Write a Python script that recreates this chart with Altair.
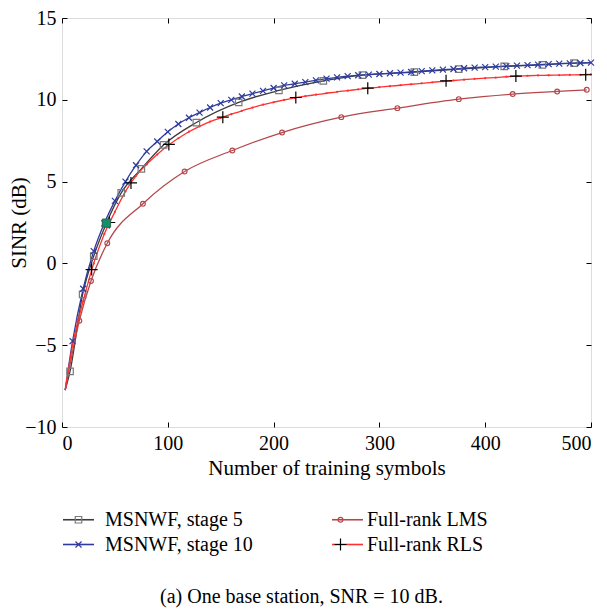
import altair as alt
import pandas as pd

FONT = "Liberation Serif"

LEGEND_ORDER = ["MSNWF, stage 5", "MSNWF, stage 10", "Full-rank LMS", "Full-rank RLS"]
LINE_COLORS = ["#3c3c3c", "#2e3b9e", "#b5474b", "#ff3030"]
MARKER_COLORS = ["#7a7a7a", "#2e3b9e", "#b5474b", "#000000"]
MARKER_PATHS = [
    "M-0.26,-0.26L0.26,-0.26L0.26,0.26L-0.26,0.26Z",
    "M-0.24,-0.24L0.24,0.24M-0.24,0.24L0.24,-0.24",
    "M-0.19,0A0.19,0.19 0 1,1 0.19,0A0.19,0.19 0 1,1 -0.19,0Z",
    "M-0.48,0L0.48,0M0,-0.48L0,0.48",
]
LEGEND_LINE_PATH = "M-1.24,0L1.24,0"
CAPTION = "(a) One base station, SNR = 10 dB."

# MSNWF, stage 5 (line points; markers flagged)
s5_x = [3, 7.6, 19.5, 30, 42, 56, 75, 96, 127, 167, 205, 247, 284, 333, 375, 418, 454, 484, 500]
s5_y = [-7.75, -6.6, -1.89, 0.45, 2.46, 4.31, 5.78, 7.24, 8.61, 9.84, 10.57, 11.16, 11.51, 11.69,
        11.88, 12.04, 12.14, 12.24, 12.27]
s5_mark = [0, 1, 1, 1, 1, 1, 1, 1, 1, 1, 1, 1, 1, 1, 1, 1, 1, 1, 0]

# MSNWF, stage 10
s10_x = [3, 10, 20, 30, 40, 50, 60, 70, 80, 90, 100, 110, 120, 130, 140, 150, 160, 170, 180, 190,
         200, 210, 220, 230, 240, 250, 260, 270, 280, 290, 300, 310, 320, 330, 340, 350, 360, 370,
         380, 390, 400, 410, 420, 430, 440, 450, 460, 470, 480, 490, 500]
s10_y = [-7.75, -4.75, -1.55, 0.75, 2.45, 3.82, 5.0, 6.0, 6.85, 7.45, 8.04, 8.52, 8.9, 9.22, 9.53,
         9.8, 10.0, 10.2, 10.38, 10.55, 10.72, 10.88, 10.98, 11.08, 11.19, 11.29, 11.37, 11.45,
         11.5, 11.54, 11.58, 11.62, 11.66, 11.7, 11.75, 11.8, 11.84, 11.88, 11.93, 11.97, 12.0,
         12.03, 12.06, 12.09, 12.12, 12.15, 12.18, 12.21, 12.23, 12.25, 12.27]
s10_mark = [0] + [1] * 50

# Full-rank LMS
lms_x = [3, 16.4, 27.4, 42.8, 76.5, 115.9, 161, 208, 264, 317, 375, 426, 468, 496]
lms_y = [-7.75, -3.5, -1.08, 1.23, 3.65, 5.62, 6.9, 8.0, 8.94, 9.49, 10.04, 10.35, 10.51, 10.61]
lms_mark = [0] + [1] * 13

# Full-rank RLS (line with small dots)
rls_x = [3, 10, 20, 30, 40, 50, 60, 70, 80, 90, 100, 110, 120, 130, 140, 150, 160, 170, 180, 190,
         200, 210, 220, 230, 240, 250, 260, 270, 280, 290, 300, 310, 320, 330, 340, 350, 360, 370,
         380, 390, 400, 410, 420, 430, 440, 450, 460, 470, 480, 490, 500]
rls_y = [-7.75, -5.0, -2.3, 0.0, 1.8, 3.15, 4.4, 5.35, 6.05, 6.65, 7.2, 7.65, 8.05, 8.38, 8.67,
         8.9, 9.12, 9.33, 9.52, 9.7, 9.85, 9.99, 10.12, 10.22, 10.31, 10.4, 10.49, 10.56, 10.64,
         10.71, 10.77, 10.83, 10.89, 10.95, 11.01, 11.07, 11.13, 11.18, 11.23, 11.28, 11.32,
         11.36, 11.41, 11.45, 11.47, 11.49, 11.5, 11.51, 11.52, 11.53, 11.55]
# Full-rank RLS "+" markers
rls_plus_x = [28, 44.7, 65.2, 101, 152, 221, 289, 363, 429, 495]
rls_plus_y = [-0.38, 2.5, 4.92, 7.27, 8.94, 10.14, 10.71, 11.16, 11.45, 11.53]

# highlighted (filled) marker
hl_x = [42]
hl_y = [2.46]

X_TICKS = [0, 100, 200, 300, 400, 500]
Y_TICKS = [-10, -5, 0, 5, 10, 15]

# ---------- tables ----------
rows_line, rows_mark = [], []
for name, xs_, ys_, ms in [
    ("MSNWF, stage 5", s5_x, s5_y, s5_mark),
    ("MSNWF, stage 10", s10_x, s10_y, s10_mark),
    ("Full-rank LMS", lms_x, lms_y, lms_mark),
    ("Full-rank RLS", rls_x, rls_y, [0] * len(rls_x)),
]:
    for xv, yv, mv in zip(xs_, ys_, ms):
        rows_line.append({"Series": name, "x": xv, "y": yv})
        if mv:
            rows_mark.append({"SeriesM": name, "x": xv, "y": yv})
for xv, yv in zip(rls_plus_x, rls_plus_y):
    rows_mark.append({"SeriesM": "Full-rank RLS", "x": xv, "y": yv})

line_df = pd.DataFrame(rows_line)
mark_df = pd.DataFrame(rows_mark)
dots_df = pd.DataFrame({"x": rls_x[1:], "y": rls_y[1:]})
hl_df = pd.DataFrame({"x": hl_x, "y": hl_y})

TOP = 10
W, H = 529, 409
xs = alt.Scale(domain=[0, 500], nice=False)
ys = alt.Scale(domain=[-10, 15], nice=False)

tick_common = dict(labels=False, domain=False, grid=False, title="", tickSize=5,
                   tickColor="black", tickWidth=1)

legend_common = dict(orient="none", legendX=3, legendY=488,
                     columns=2, symbolSize=625,
                     labelFont=FONT, labelFontSize=20, labelColor="black",
                     rowPadding=1, padding=0, labelLimit=400, title=None)

lines = alt.Chart(line_df).mark_line(interpolate="monotone", strokeWidth=1.3).encode(
    x=alt.X("x:Q", scale=xs, axis=alt.Axis(values=X_TICKS, title="Number of training symbols",
                                           ticks=False, domain=False, grid=False, labelPadding=6,
                                           titlePadding=4, format="d", labelFont=FONT,
                                           labelFontSize=20, titleFont=FONT, titleFontSize=21,
                                           titleFontWeight="normal", labelColor="black",
                                           titleColor="black")),
    y=alt.Y("y:Q", scale=ys, axis=alt.Axis(values=Y_TICKS, title="SINR (dB)", ticks=False,
                                           domain=False, grid=False, labelPadding=6,
                                           titleX=-33, titleY=H / 2, titleAlign="center",
                                           titleBaseline="bottom", titleAngle=270,
                                           labelFont=FONT, labelFontSize=20,
                                           titleFont=FONT, titleFontSize=21,
                                           titleFontWeight="normal", labelColor="black",
                                           titleColor="black")),
    color=alt.Color("Series:N",
                    scale=alt.Scale(domain=LEGEND_ORDER, range=LINE_COLORS),
                    legend=alt.Legend(symbolType=LEGEND_LINE_PATH, symbolStrokeWidth=1.6,
                                      labelExpr="''", labelOffset=11, columnPadding=225,
                                      **legend_common)),
    detail="Series:N",
)

dots = alt.Chart(dots_df).mark_point(shape="circle", size=5, filled=True, color="#ff3030",
                                     opacity=1).encode(
    x=alt.X("x:Q", scale=xs, axis=alt.Axis(orient="top", offset=-H, values=X_TICKS, **tick_common)),
    y=alt.Y("y:Q", scale=ys, axis=alt.Axis(orient="right", offset=-W, values=Y_TICKS, **tick_common)),
)

marker_legend = alt.Legend(symbolStrokeWidth=1.2, symbolFillColor="transparent",
                           labelOffset=13, columnPadding=74, **legend_common)

marks = alt.Chart(mark_df).mark_point(size=625, filled=False, strokeWidth=1.2, opacity=1).encode(
    x=alt.X("x:Q", scale=xs, axis=alt.Axis(orient="bottom", offset=-H, values=X_TICKS, **tick_common)),
    y=alt.Y("y:Q", scale=ys, axis=alt.Axis(orient="left", offset=-W, values=Y_TICKS, **tick_common)),
    color=alt.Color("SeriesM:N", scale=alt.Scale(domain=LEGEND_ORDER, range=MARKER_COLORS),
                    legend=marker_legend),
    shape=alt.Shape("SeriesM:N", scale=alt.Scale(domain=LEGEND_ORDER, range=MARKER_PATHS),
                    legend=marker_legend),
)

# caption drawn as the title of an extra, otherwise empty bottom axis
hl = alt.Chart(hl_df).mark_point(shape="square", size=70, filled=True, color="#11906a",
                                 opacity=1, stroke="#2a5a4a", strokeWidth=0.8).encode(
    x=alt.X("x:Q", scale=xs, axis=alt.Axis(orient="bottom", offset=0, labels=False, ticks=False,
                                           domain=False, grid=False, title=CAPTION,
                                           titleX=239, titleY=175, titleAlign="center",
                                           titleBaseline="alphabetic", titleFont=FONT,
                                           titleFontSize=20, titleFontWeight="normal",
                                           titleColor="black")),
    y=alt.Y("y:Q", scale=ys, axis=None),
)

chart = alt.layer(lines, dots, marks, hl).resolve_scale(
    color="independent", shape="independent"
).resolve_axis(
    x="independent", y="independent"
).properties(
    width=W, height=H,
    autosize=alt.AutoSizeParams(type="none"),
    padding={"left": 54, "top": TOP, "right": 8, "bottom": 603 - TOP - H},
).configure_view(
    stroke="black", strokeWidth=1.2
).configure(background="white")

chart.save("out.html", embed_options={"renderer": "svg", "actions": False})
